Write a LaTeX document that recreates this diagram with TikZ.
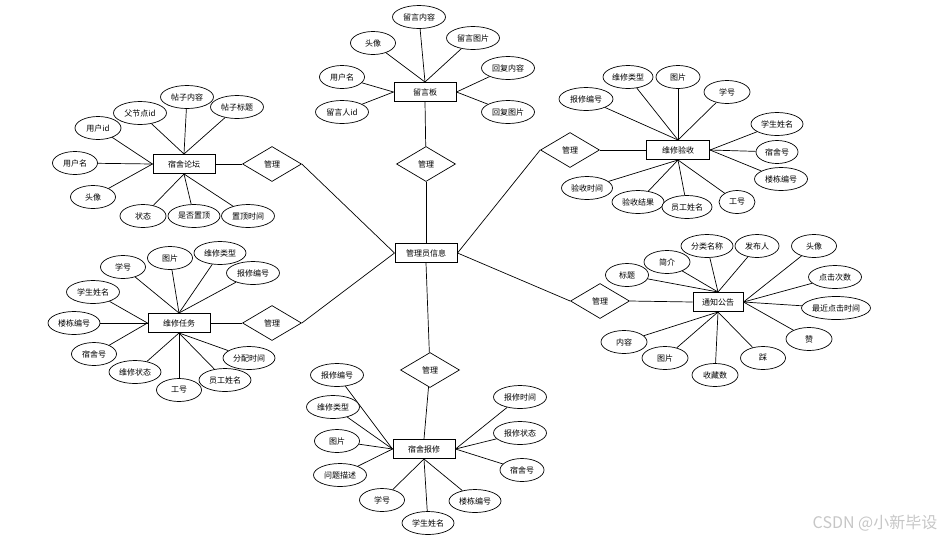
\documentclass[tikz,border=0pt]{standalone}
\usepackage{fontspec}
\newfontfamily\cjk{Noto Sans CJK SC}
\usepackage{tikz}
\usetikzlibrary{shapes.geometric}

\begin{document}
\begin{tikzpicture}[
    x=1pt, y=-1pt,
    ent/.style={draw, line width=1pt, fill=white, minimum width=62pt, minimum height=19pt, inner sep=0pt, font=\cjk\fontsize{8}{9}\selectfont},
    attr/.style={ellipse, draw, line width=0.7pt, fill=white, inner sep=0pt, minimum width=#1, minimum height=23pt, font=\cjk\fontsize{8}{9}\selectfont},
    attr/.default=45pt,
    rel/.style={diamond, draw, line width=0.7pt, fill=white, inner sep=0pt, minimum width=59pt, minimum height=35pt, font=\cjk\fontsize{8}{9}\selectfont},
    lnk/.style={line width=0.7pt}
]
\useasboundingbox (0,0) rectangle (952,542);

% centre
\node[ent] (admin) at (426,253) {管理员信息};

% 留言板
\node[ent] (lyb) at (425,92) {留言板};
\node[rel] (rlyb) at (426,164) {管理};
\foreach \w/\p/\t/\a in {53/{419,17}/留言内容/north, 45/{373,43}/头像/north, 53/{473,38}/留言图片/north,
    45/{342,77}/用户名/west, 53/{342,112}/留言人id/west, 53/{508,68}/回复内容/east, 53/{508,112}/回复图片/east}
{
    \node[attr=\w pt] (lyb-\t) at (\p) {\t};
    \draw[lnk] (lyb-\t) -- (lyb.\a);
}
\draw[lnk] (rlyb) -- (lyb.south);
\draw[lnk] (rlyb) -- (admin.north);

% 宿舍论坛
\node[ent] (sslt) at (184,164) {宿舍论坛};
\node[rel] (rsslt) at (272,164) {管理};
\foreach \w/\p/\t/\a in {53/{187,97}/帖子内容/north, 53/{140,113}/父节点id/north, 53/{237,107}/帖子标题/north,
    46/{98,128}/用户id/west, 45/{75,163}/用户名/west, 45/{93,197}/头像/west,
    46/{143,216}/状态/south, 52/{194,216}/是否置顶/south, 53/{248,216}/置顶时间/south}
{
    \node[attr=\w pt] (sslt-\t) at (\p) {\t};
    \draw[lnk] (sslt-\t) -- (sslt.\a);
}
\draw[lnk] (sslt.east) -- (rsslt.west);
\draw[lnk] (rsslt.east) -- (admin.west);

% 维修任务
\node[ent] (wxrw) at (179,323) {维修任务};
\node[rel] (rwxrw) at (272,323) {管理};
\foreach \w/\p/\t/\a in {45/{123,267}/学号/north, 45/{170,258}/图片/north, 52/{220,253}/维修类型/north, 53/{253,273}/报修编号/north,
    53/{93,292}/学生姓名/west, 52/{74,323}/楼栋编号/west, 45/{94,354}/宿舍号/west,
    52/{135,372}/维修状态/south, 45/{179,390}/工号/south, 52/{225,380}/员工姓名/south, 52/{249,358}/分配时间/south}
{
    \node[attr=\w pt] (wxrw-\t) at (\p) {\t};
    \draw[lnk] (wxrw-\t) -- (wxrw.\a);
}
\draw[lnk] (wxrw.east) -- (rwxrw.west);
\draw[lnk] (rwxrw.east) -- (admin.west);

% 维修验收
\node[ent, minimum width=63pt] (wxys) at (678,150) {维修验收};
\node[rel] (rwxys) at (570,150) {管理};
\foreach \w/\p/\t/\a in {50/{628,77}/维修类型/north, 44/{678,77}/图片/north, 54/{586,99}/报修编号/north, 46/{727,92}/学号/north,
    52/{777,124}/学生姓名/east, 42/{777,152}/宿舍号/east, 53/{781,179}/楼栋编号/east,
    36/{737,202}/工号/south, 52/{638,202}/验收结果/south, 50/{687,207}/员工姓名/south, 51/{587,188}/验收时间/south}
{
    \node[attr=\w pt] (wxys-\t) at (\p) {\t};
    \draw[lnk] (wxys-\t) -- (wxys.\a);
}
\draw[lnk] (wxys.west) -- (rwxys.east);
\draw[lnk] (rwxys.west) -- (admin.east);

% 通知公告
\node[ent, minimum width=50pt] (tzgg) at (718,302) {通知公告};
\node[rel] (rtzgg) at (600,301) {管理};
\foreach \w/\p/\t/\a in {43/{627,275}/标题/north, 46/{667,262}/简介/north, 52/{707,246}/分类名称/north, 44/{757,246}/发布人/north,
    45/{814,246}/头像/east, 53/{835,277}/点击次数/east, 69/{836,308}/最近点击时间/east, 46/{809,339}/赞/east,
    45/{763,358}/踩/south, 46/{715,375}/收藏数/south, 46/{665,358}/图片/south, 46/{624,342}/内容/south}
{
    \node[attr=\w pt] (tzgg-\t) at (\p) {\t};
    \draw[lnk] (tzgg-\t) -- (tzgg.\a);
}
\draw[lnk] (tzgg.west) -- (rtzgg.east);
\draw[lnk] (rtzgg.west) -- (admin.east);

% 宿舍报修
\node[ent] (ssbx) at (424,449) {宿舍报修};
\node[rel] (rssbx) at (430,370) {管理};
\foreach \w/\p/\t/\a in {53/{337,375}/报修编号/west, 53/{333,407}/维修类型/west, 45/{337,441}/图片/west, 53/{340,475}/问题描述/west,
    45/{382,500}/学号/south, 52/{428,523}/学生姓名/south, 52/{475,501}/楼栋编号/south,
    44/{522,470}/宿舍号/east, 53/{520,433}/报修状态/east, 53/{520,397}/报修时间/east}
{
    \node[attr=\w pt] (ssbx-\t) at (\p) {\t};
    \draw[lnk] (ssbx-\t) -- (ssbx.\a);
}
\draw[lnk] (rssbx) -- (ssbx.north);
\draw[lnk] (rssbx) -- (admin.south);

% watermark
\node[font=\cjk\fontsize{16}{18}\selectfont, text=gray!45] (mark) at (875,523) {CSDN @小新毕设};

\end{tikzpicture}
\end{document}
